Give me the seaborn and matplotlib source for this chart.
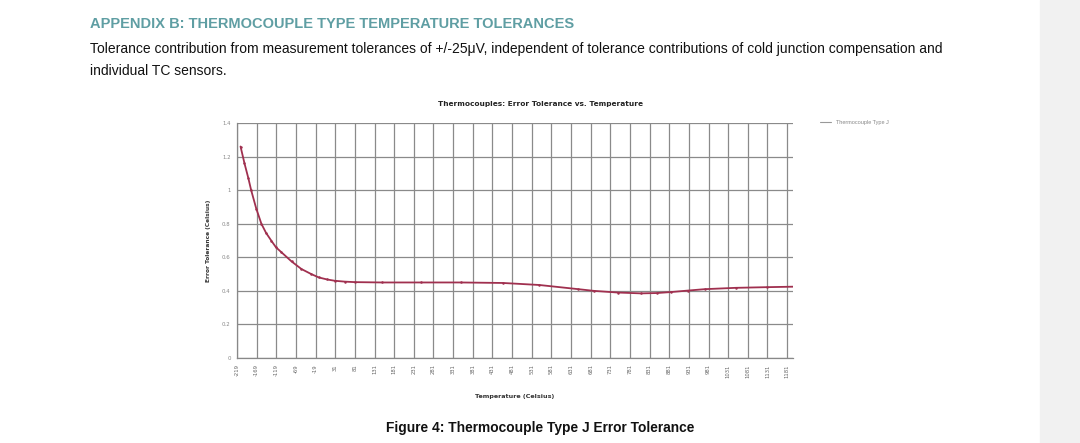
import matplotlib
matplotlib.use("Agg")
import matplotlib.pyplot as plt
import seaborn as sns
import pandas as pd
import numpy as np

# ---- data ----
temperature_c = [-210, -200, -190, -183, -170, -157, -145, -132, -120, -106, -80, -55, -30, -11,
                 10, 30, 55, 81, 150, 250, 350, 458, 550, 650, 689, 750, 809, 850, 886,
                 930, 971, 1050, 1130, 1200]
error_tol_c = [1.26, 1.16, 1.07, 1.00, 0.89, 0.80, 0.745, 0.70, 0.66, 0.63, 0.575, 0.53, 0.50, 0.48,
               0.468, 0.46, 0.455, 0.452, 0.45, 0.45, 0.45, 0.447, 0.435, 0.41, 0.40, 0.39, 0.385,
               0.387, 0.393, 0.402, 0.41, 0.418, 0.422, 0.425]
xtick_values = list(range(-219, 1200, 50))
ytick_values = [0, 0.2, 0.4, 0.6, 0.8, 1, 1.2, 1.4]
ytick_labels = ["0", "0.2", "0.4", "0.6", "0.8", "1", "1.2", "1.4"]
series_name = "Thermocouple Type J"

df = pd.DataFrame({"Temperature": temperature_c, "Error": error_tol_c, "Series": series_name})

sns.set_theme(style="white")
plt.rcParams["font.family"] = ["Liberation Sans", "DejaVu Sans"]

fig = plt.figure(figsize=(10.8, 4.43), dpi=100)
fig.patch.set_facecolor("white")
# light gray page margin at right
fig.patches.append(matplotlib.patches.Rectangle((1040/1080, 0), 40/1080, 1, transform=fig.transFigure,
                                                 color="#f1f1f1", zorder=-10))

ax = fig.add_axes([237/1080, 1-358/443, (793-237)/1080, (358-123)/443])
sns.lineplot(data=df, x="Temperature", y="Error", hue="Series", palette=["#a0304f"],
             ax=ax, linewidth=1.3, marker="o", markersize=1.8, markeredgewidth=0, legend=True)

ax.set_xlim(-219, 1196)
ax.set_ylim(0, 1.4)
ax.set_xticks(xtick_values)
ax.set_xticklabels([str(v) for v in xtick_values], rotation=90, fontsize=3.8, color="#666666",
                   family="DejaVu Sans")
ax.set_yticks(ytick_values)
ax.set_yticklabels(ytick_labels, fontsize=3.9, color="#888888", family="DejaVu Sans")
ax.tick_params(axis="both", length=3, width=0.8, color="#777777", pad=1.5)
ax.grid(True, color="#8a8a8a", linewidth=0.9)
for s in ["top", "right"]:
    ax.spines[s].set_visible(False)
for s in ["left", "bottom"]:
    ax.spines[s].set_color("#888888")
    ax.spines[s].set_linewidth(0.9)

ax.set_xlabel("Temperature (Celsius)", fontsize=4.6, fontweight="bold", color="#333333",
              family="DejaVu Sans", labelpad=12)
ax.set_ylabel("Error Tolerance (Celsius)", fontsize=4.2, fontweight="bold", color="#333333",
              family="DejaVu Sans", labelpad=8)

fig.text(540/1080, 1-104/443, "Thermocouples: Error Tolerance vs. Temperature", fontsize=5.3,
         fontweight="bold", color="#222222", family="DejaVu Sans", ha="center", va="center")

leg = ax.legend(loc="upper left", bbox_to_anchor=(1.04, 1.035), frameon=False, fontsize=4.0,
                handlelength=2.0, labelcolor="#888888")
for line in leg.get_lines():
    line.set_color("#999999")
    line.set_linewidth(0.8)
    line.set_marker("")

# page text
fig.text(90/1080, 1-24/443, "APPENDIX B: THERMOCOUPLE TYPE TEMPERATURE TOLERANCES", fontsize=10.5,
         fontweight="bold", color="#5f9ea3", va="center", ha="left")
fig.text(90/1080, 1-49/443, "Tolerance contribution from measurement tolerances of +/-25\u03bcV, independent of tolerance contributions of cold junction compensation and",
         fontsize=10, color="#111111", va="center", ha="left")
fig.text(90/1080, 1-71/443, "individual TC sensors.", fontsize=10, color="#111111", va="center", ha="left")
fig.text(540/1080, 1-428/443, "Figure 4: Thermocouple Type J Error Tolerance", fontsize=9.9,
         fontweight="bold", color="#111111", va="center", ha="center")

fig.savefig("out.png", dpi=100, facecolor=fig.get_facecolor())
